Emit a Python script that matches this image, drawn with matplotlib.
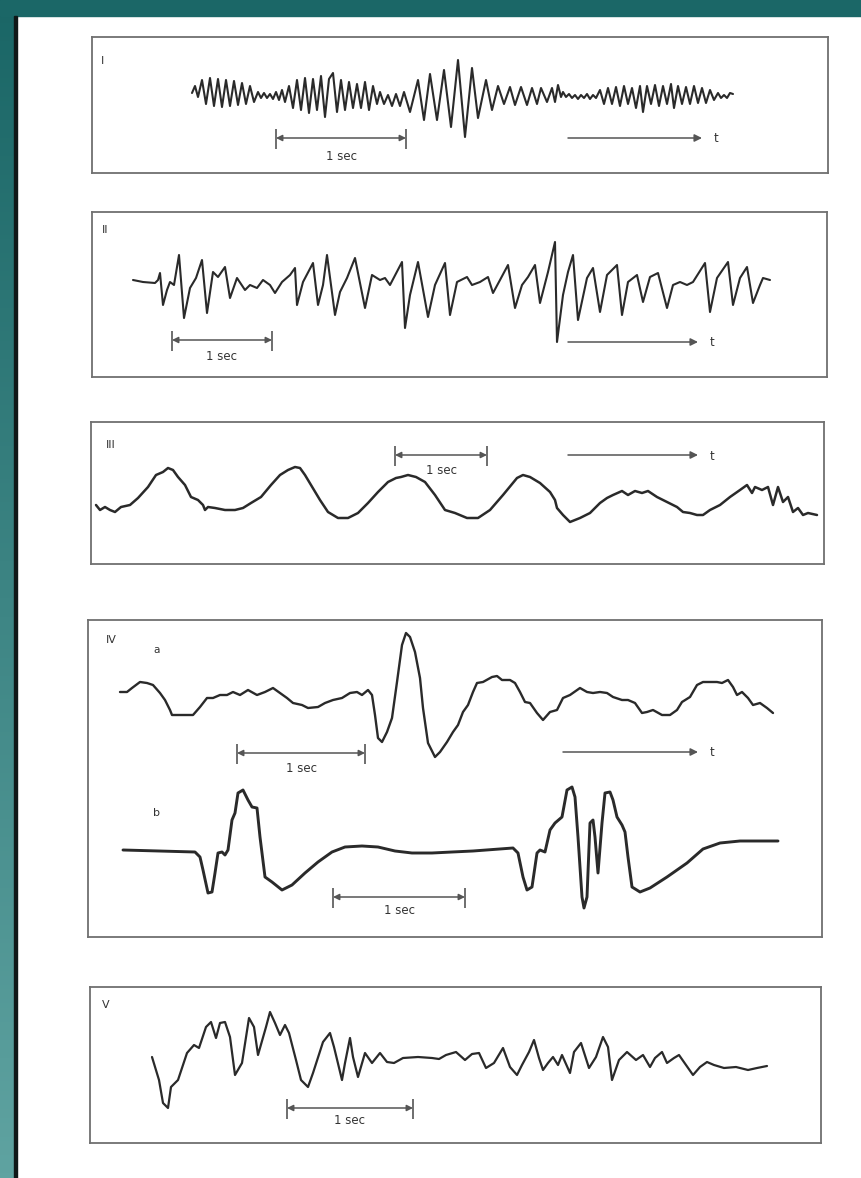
import numpy as np
import matplotlib
matplotlib.use("Agg")
import matplotlib.pyplot as plt
from matplotlib.patches import Rectangle

trace_I = [
    (192, 93), (195, 86), (198, 97), (202, 80), (206, 104), (210, 78), (214, 106),
    (218, 79), (222, 107), (226, 80), (230, 106), (234, 81), (238, 105), (242, 83),
    (246, 104), (250, 86), (254, 102), (258, 92), (261, 98), (264, 93), (267, 98),
    (270, 94), (273, 99), (276, 92), (279, 100), (282, 90), (285, 102), (289, 86),
    (293, 108), (297, 80), (301, 110), (305, 78), (309, 113), (313, 79), (317, 110),
    (321, 76), (325, 117), (329, 79), (333, 73), (337, 112), (341, 80), (345, 110),
    (349, 82), (353, 108), (357, 84), (361, 108), (365, 82), (369, 110), (373, 86),
    (377, 104), (380, 92), (384, 104), (388, 95), (392, 106), (396, 94), (400, 106),
    (404, 92), (410, 112), (418, 80), (424, 120), (430, 74), (437, 120), (444, 70),
    (451, 127), (458, 60), (465, 137), (472, 68), (478, 118), (486, 80), (492, 110),
    (498, 86), (504, 104), (510, 87), (515, 105), (521, 87), (527, 105), (532, 88),
    (537, 104), (541, 88), (547, 102), (552, 88), (555, 102), (558, 85), (561, 97),
    (563, 92), (566, 97), (569, 94), (572, 98), (575, 95), (578, 99), (581, 95),
    (584, 98), (587, 94), (590, 99), (593, 95), (596, 98), (600, 90), (604, 104),
    (608, 88), (612, 104), (616, 87), (620, 106), (624, 86), (628, 104), (632, 88),
    (636, 108), (640, 86), (643, 112), (647, 86), (651, 104), (655, 85), (659, 106),
    (663, 86), (667, 104), (671, 84), (674, 108), (678, 86), (682, 104), (686, 87),
    (690, 104), (694, 86), (698, 103), (702, 88), (706, 103), (710, 90), (714, 100),
    (718, 93), (721, 98), (724, 95), (727, 98), (730, 93), (733, 94),
]

trace_II = [
    (133, 280), (143, 282), (155, 283), (158, 280), (160, 273), (163, 305), (167, 290),
    (170, 282), (174, 285), (179, 255), (184, 318), (190, 288), (196, 278), (202, 260),
    (207, 313), (213, 272), (218, 277), (225, 267), (230, 298), (237, 278), (245, 290),
    (250, 285), (257, 288), (263, 280), (270, 285), (275, 293), (282, 282), (290, 275),
    (295, 268), (297, 305), (303, 282), (313, 263), (318, 305), (323, 285), (327, 255),
    (335, 315), (340, 292), (347, 278), (355, 258), (365, 308), (372, 275), (380, 280),
    (385, 278), (390, 285), (402, 262), (405, 328), (410, 295), (418, 262), (428, 317),
    (435, 285), (445, 263), (450, 315), (457, 282), (467, 277), (472, 285), (480, 282),
    (488, 277), (493, 293), (500, 280), (508, 265), (515, 308), (522, 285), (528, 277),
    (535, 265), (540, 303), (548, 272), (555, 242), (557, 342), (563, 295), (568, 272),
    (573, 255), (578, 320), (587, 278), (593, 268), (600, 312), (607, 275), (617, 265),
    (622, 315), (628, 282), (637, 275), (643, 302), (650, 277), (658, 273), (667, 308),
    (673, 285), (680, 282), (687, 285), (693, 282), (705, 263), (710, 312), (717, 278),
    (728, 262), (733, 305), (740, 278), (747, 267), (753, 303), (760, 285), (763, 278),
    (770, 280),
]

trace_III = [
    (96, 505), (100, 510), (105, 507), (110, 510), (115, 512), (121, 507), (130, 505),
    (138, 498), (148, 487), (156, 475), (163, 472), (168, 468), (173, 470), (178, 477),
    (185, 485), (191, 497), (198, 500), (203, 505), (205, 510), (208, 507), (215, 508),
    (225, 510), (235, 510), (243, 508), (251, 503), (261, 497), (271, 485), (280, 475),
    (288, 470), (295, 467), (300, 468), (305, 475), (311, 485), (320, 500), (328, 512),
    (338, 518), (348, 518), (358, 513), (368, 503), (378, 492), (388, 482), (396, 478),
    (401, 477), (408, 475), (416, 477), (425, 482), (435, 495), (445, 510), (455, 513),
    (467, 518), (478, 518), (490, 510), (503, 495), (517, 478), (523, 475), (530, 477),
    (540, 483), (550, 492), (555, 500), (557, 508), (563, 515), (570, 522), (580, 518),
    (590, 513), (600, 503), (607, 498), (613, 495), (622, 491), (628, 495), (635, 491),
    (642, 493), (648, 491), (657, 497), (667, 502), (677, 507), (683, 512), (690, 513),
    (697, 515), (703, 515), (710, 510), (720, 505), (730, 497), (740, 490), (747, 485),
    (752, 493), (755, 487), (762, 490), (768, 487), (773, 505), (778, 487), (783, 502),
    (788, 497), (793, 512), (798, 508), (803, 515), (808, 513), (817, 515),
]

trace_IVa = [
    (120, 692), (127, 692), (132, 688), (140, 682), (147, 683), (153, 685), (160, 693),
    (165, 700), (170, 710), (172, 715), (182, 715), (193, 715), (200, 707), (207, 698),
    (213, 698), (220, 695), (227, 695), (233, 692), (240, 695), (248, 690), (257, 695),
    (265, 692), (273, 688), (280, 693), (287, 698), (293, 703), (302, 705), (308, 708),
    (318, 707), (325, 703), (333, 700), (342, 698), (350, 693), (357, 692), (362, 695),
    (368, 690), (372, 695), (375, 715), (378, 738), (382, 742), (387, 732), (392, 718),
    (397, 682), (402, 645), (406, 633), (410, 637), (415, 652), (420, 678), (423, 708),
    (428, 743), (435, 757), (440, 752), (447, 742), (453, 732), (458, 725), (463, 712),
    (468, 705), (473, 692), (477, 683), (483, 682), (492, 677), (497, 676), (502, 680),
    (510, 680), (515, 683), (520, 692), (525, 702), (530, 703), (537, 713), (543, 720),
    (550, 712), (557, 710), (563, 698), (570, 695), (580, 688), (587, 692), (593, 693),
    (600, 692), (607, 693), (613, 697), (622, 700), (628, 700), (635, 703), (642, 713),
    (647, 712), (653, 710), (662, 715), (670, 715), (677, 710), (682, 702), (690, 697),
    (697, 685), (703, 682), (717, 682), (722, 683), (728, 680), (733, 687), (737, 695),
    (742, 692), (748, 698), (753, 705), (760, 703), (767, 708), (773, 713),
]

trace_IVb = [
    (123, 850), (195, 852), (200, 857), (203, 870), (208, 893), (212, 892), (215, 873),
    (218, 853), (222, 852), (225, 855), (228, 850), (232, 820), (235, 813), (238, 793),
    (243, 790), (248, 800), (252, 807), (257, 808), (260, 837), (265, 877), (272, 882),
    (282, 890), (292, 885), (305, 873), (318, 862), (332, 852), (345, 847), (362, 846),
    (378, 847), (395, 851), (412, 853), (432, 853), (452, 852), (473, 851), (513, 848),
    (518, 853), (523, 877), (527, 890), (532, 887), (537, 853), (540, 850), (545, 852),
    (550, 830), (555, 823), (562, 817), (567, 790), (572, 787), (575, 797), (578, 837),
    (582, 897), (584, 908), (587, 897), (590, 823), (593, 820), (595, 837), (598, 873),
    (602, 823), (605, 793), (610, 792), (613, 800), (617, 817), (622, 825), (625, 832),
    (628, 857), (632, 887), (640, 892), (650, 888), (667, 877), (687, 863), (703, 849),
    (720, 843), (740, 841), (760, 841), (778, 841),
]

trace_V = [
    (152, 1057), (159, 1080), (163, 1103), (168, 1108), (171, 1087), (178, 1080),
    (187, 1053), (194, 1045), (199, 1048), (206, 1027), (211, 1022), (216, 1038),
    (220, 1023), (225, 1022), (230, 1037), (235, 1075), (242, 1063), (249, 1018),
    (254, 1027), (258, 1055), (266, 1027), (270, 1012), (275, 1023), (280, 1035),
    (285, 1025), (289, 1033), (296, 1060), (301, 1080), (308, 1087), (313, 1073),
    (323, 1042), (330, 1033), (334, 1047), (342, 1080), (345, 1063), (350, 1038),
    (353, 1057), (358, 1077), (365, 1053), (372, 1063), (380, 1053), (387, 1062),
    (394, 1063), (403, 1058), (418, 1057), (432, 1058), (439, 1059), (446, 1055),
    (456, 1052), (465, 1060), (472, 1054), (479, 1053), (486, 1068), (494, 1063),
    (503, 1048), (510, 1067), (517, 1075), (522, 1065), (529, 1052), (534, 1040),
    (539, 1058), (543, 1070), (548, 1063), (553, 1057), (558, 1065), (562, 1055),
    (570, 1073), (574, 1052), (581, 1043), (589, 1068), (596, 1057), (603, 1037),
    (608, 1047), (612, 1080), (619, 1060), (627, 1052), (636, 1060), (643, 1055),
    (650, 1067), (655, 1058), (662, 1052), (667, 1063), (674, 1058), (679, 1055),
    (686, 1065), (693, 1075), (700, 1067), (707, 1062), (714, 1065), (724, 1068),
    (736, 1067), (748, 1070), (757, 1068), (767, 1066),
]

# panel frames: (left, top, right, bottom) on the page
panel_boxes = {
    "I": (92, 37, 828, 173),
    "II": (92, 212, 827, 377),
    "III": (91, 422, 824, 564),
    "IV": (88, 620, 822, 937),
    "V": (90, 987, 821, 1143),
}
panel_labels = {"I": (103, 61), "II": (105, 230), "III": (111, 445),
                "IV": (111, 640), "V": (106, 1005)}

# 1-sec calibration bars: (panel, start, end, level, label level)
sec_bars = [
    ("I", 276, 406, 138, 156),
    ("II", 172, 272, 340, 357),
    ("III", 395, 487, 455, 470),
    ("IV", 237, 365, 753, 768),
    ("IV", 333, 465, 897, 911),
    ("V", 287, 413, 1108, 1121),
]
# time arrows: (panel, start, end, level)
time_arrows = [
    ("I", 568, 702, 138),
    ("II", 568, 698, 342),
    ("III", 568, 698, 455),
    ("IV", 563, 698, 752),
]

W, H = 861, 1178
TRACE_COLOR = "#2a2a2a"
FRAME_COLOR = "#707070"
TEXT_COLOR = "#333333"

fig = plt.figure(figsize=(W / 100, H / 100), dpi=100)
fig.patch.set_facecolor("white")

# teal page border (top strip + left gradient strip)
edge = fig.add_axes([0, 0, 15 / W, 1])
grad = np.linspace(0, 1, 256).reshape(-1, 1)
cmap = matplotlib.colors.LinearSegmentedColormap.from_list("teal", ["#1a6666", "#5fa3a1"])
edge.imshow(grad, aspect="auto", cmap=cmap, extent=[0, 1, 1, 0])
edge.axis("off")
fig.patches.append(Rectangle((0, 1 - 16 / H), 1, 16 / H, transform=fig.transFigure,
                             color="#1b6767", zorder=5))
fig.patches.append(Rectangle((14 / W, 0), 3 / W, 1 - 16 / H, transform=fig.transFigure,
                             color="#101818", zorder=5))

axes = {}
for name, (x0, y0, x1, y1) in panel_boxes.items():
    ax = fig.add_axes([x0 / W, 1 - y1 / H, (x1 - x0) / W, (y1 - y0) / H])
    ax.set_xlim(x0, x1)
    ax.set_ylim(y1, y0)
    ax.set_xticks([])
    ax.set_yticks([])
    for sp in ax.spines.values():
        sp.set_color(FRAME_COLOR)
        sp.set_linewidth(1.3)
    lx, ly = panel_labels[name]
    ax.text(lx, ly, name, fontsize=8, color=TEXT_COLOR, ha="center", va="center")
    axes[name] = ax

traces = [("I", trace_I, 1.5), ("II", trace_II, 1.5), ("III", trace_III, 1.8),
          ("IV", trace_IVa, 1.7), ("IV", trace_IVb, 2.1), ("V", trace_V, 1.6)]
for name, data, lw in traces:
    t, v = np.array(data, dtype=float).T
    axes[name].plot(t, v, color=TRACE_COLOR, lw=lw, solid_joinstyle="round",
                    solid_capstyle="round")

# sub-labels in panel IV
axes["IV"].text(157, 650, "a", fontsize=7.5, color=TEXT_COLOR, ha="center", va="center")
axes["IV"].text(157, 813, "b", fontsize=8, color=TEXT_COLOR, ha="center", va="center")

for name, xs, xe, yl, yt in sec_bars:
    ax = axes[name]
    ax.annotate("", xy=(xe, yl), xytext=(xs, yl),
                arrowprops=dict(arrowstyle="<|-|>", color="#555555", lw=1.1,
                                mutation_scale=9, shrinkA=0, shrinkB=0))
    ax.vlines([xs, xe], yl - 9, yl + 11, color="#555555", lw=1.2)
    ax.text((xs + xe) / 2, yt, "1 sec", fontsize=8.5, color=TEXT_COLOR,
            ha="center", va="center")

for name, xs, xe, yl in time_arrows:
    ax = axes[name]
    ax.annotate("", xy=(xe, yl), xytext=(xs, yl),
                arrowprops=dict(arrowstyle="-|>", color="#555555", lw=1.1,
                                mutation_scale=11, shrinkA=0, shrinkB=0))
    ax.text(xe + 14, yl + 1, "t", fontsize=8.5, color=TEXT_COLOR, ha="center", va="center")

fig.savefig("out.png", dpi=100)
